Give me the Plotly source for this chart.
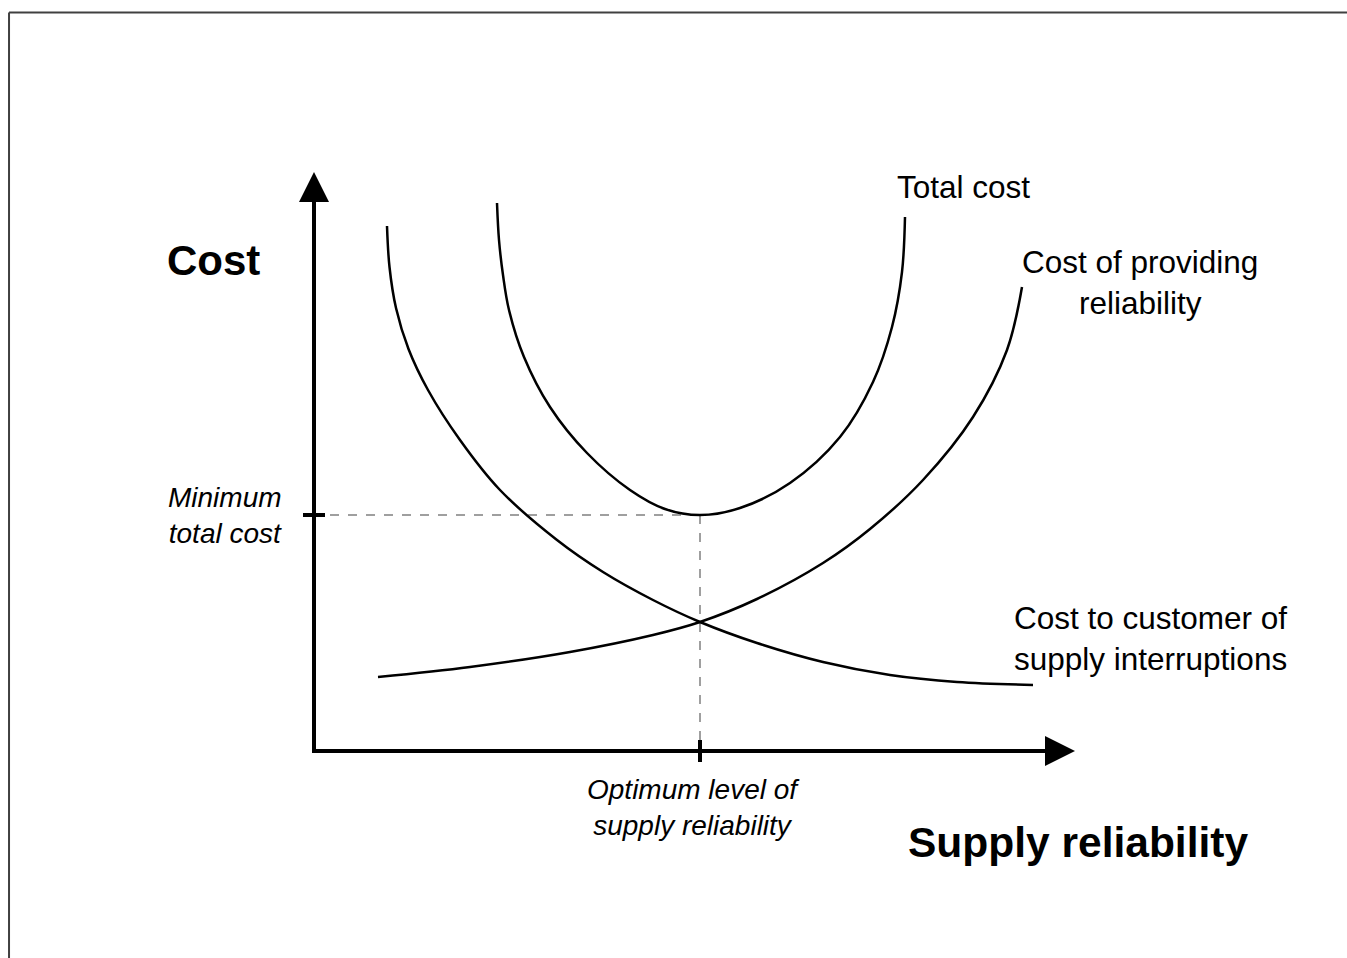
import plotly.graph_objects as go

# ---- data (x = supply reliability, y = cost) ----
interrupt_x = [0.73, 0.755, 0.82, 0.945, 1.14, 1.46, 1.86, 2.43, 2.89, 3.39, 3.86, 4.43, 5.09, 5.76, 6.43, 7.19]
interrupt_y = [5.25, 4.84, 4.43, 4.02, 3.61, 3.11, 2.61, 2.11, 1.79, 1.51, 1.29, 1.08, 0.89, 0.76, 0.69, 0.66]

provide_x = [0.64, 1.56, 2.56, 3.39, 3.86, 4.43, 5.09, 5.56, 6.09, 6.59, 6.93, 7.08]
provide_y = [0.74, 0.84, 0.99, 1.16, 1.29, 1.52, 1.88, 2.22, 2.71, 3.34, 4.01, 4.64]

total_x = [1.83, 1.85, 1.89, 1.95, 2.10, 2.36, 2.73, 3.16, 3.51, 3.86, 4.26, 4.76, 5.26, 5.59, 5.78, 5.88, 5.91]
total_y = [5.48, 5.11, 4.76, 4.41, 3.94, 3.44, 2.98, 2.61, 2.42, 2.36, 2.43, 2.68, 3.14, 3.69, 4.24, 4.79, 5.34]

x_axis_end = 7.61
y_axis_end = 5.79
dash_start = 0.16
tick_half = 0.11

curve_labels = ["Total cost", "Cost of providing<br>reliability", "Cost to customer of<br>supply interruptions"]
y_title = "Cost"
x_title = "Supply reliability"
min_label = "Minimum<br>total cost"
opt_label = "Optimum level of<br>supply reliability"

# optimum from the total cost curve
i_opt = total_y.index(min(total_y))
x_opt, y_min = total_x[i_opt], total_y[i_opt]

FONT = "Liberation Sans, Arial, sans-serif"
fig = go.Figure()

# dashed guide lines
fig.add_trace(go.Scatter(x=[dash_start, x_opt], y=[y_min, y_min], mode="lines",
                         line=dict(color="#808080", width=1.5, dash="dash"), hoverinfo="skip"))
fig.add_trace(go.Scatter(x=[x_opt, x_opt], y=[y_min, 0], mode="lines",
                         line=dict(color="#808080", width=1.5, dash="dash"), hoverinfo="skip"))

# curves
for xs, ys in [(interrupt_x, interrupt_y), (provide_x, provide_y), (total_x, total_y)]:
    fig.add_trace(go.Scatter(x=xs, y=ys, mode="lines",
                             line=dict(color="black", width=2.5, shape="spline", smoothing=1),
                             hoverinfo="skip"))

# axis lines
fig.add_trace(go.Scatter(x=[0, x_axis_end - 0.2], y=[0, 0], mode="lines",
                         line=dict(color="black", width=4), hoverinfo="skip"))
fig.add_trace(go.Scatter(x=[0, 0], y=[-0.02, y_axis_end - 0.2], mode="lines",
                         line=dict(color="black", width=4), hoverinfo="skip"))
# tick marks
fig.add_trace(go.Scatter(x=[x_opt, x_opt], y=[-tick_half, tick_half], mode="lines",
                         line=dict(color="black", width=4), hoverinfo="skip"))
fig.add_trace(go.Scatter(x=[-tick_half, tick_half], y=[y_min, y_min], mode="lines",
                         line=dict(color="black", width=4), hoverinfo="skip"))

annotations = [
    # arrow heads
    dict(x=x_axis_end, y=0, ax=x_axis_end - 0.5, ay=0, axref="x", ayref="y", xref="x", yref="y",
         text="", showarrow=True, arrowhead=2, arrowsize=1.5, arrowwidth=4, arrowcolor="black", standoff=0),
    dict(x=0, y=y_axis_end, ax=0, ay=y_axis_end - 0.5, axref="x", ayref="y", xref="x", yref="y",
         text="", showarrow=True, arrowhead=2, arrowsize=1.5, arrowwidth=4, arrowcolor="black", standoff=0),
    # titles
    dict(x=-1.01, y=4.91, text="<b>" + y_title + "</b>", showarrow=False,
         font=dict(size=42, color="black", family=FONT), xanchor="center", yanchor="middle"),
    dict(x=7.64, y=-0.91, text="<b>" + x_title + "</b>", showarrow=False,
         font=dict(size=42.5, color="black", family=FONT), xanchor="center", yanchor="middle"),
    # curve labels
    dict(x=6.49, y=5.64, text=curve_labels[0], showarrow=False,
         font=dict(size=31.5, color="black", family=FONT), xanchor="center", yanchor="middle"),
    dict(x=8.26, y=4.69, text=curve_labels[1], showarrow=False, align="center",
         font=dict(size=31.5, color="black", family=FONT), xanchor="center", yanchor="middle"),
    dict(x=6.98, y=1.125, text=curve_labels[2], showarrow=False, align="left",
         font=dict(size=31.5, color="black", family=FONT), xanchor="left", yanchor="middle"),
    # italic labels
    dict(x=-0.89, y=y_min, text="<i>" + min_label + "</i>", showarrow=False, align="center",
         font=dict(size=28, color="black", family=FONT), xanchor="center", yanchor="middle"),
    dict(x=x_opt - 0.07, y=-0.56, text="<i>" + opt_label + "</i>", showarrow=False, align="center",
         font=dict(size=28, color="black", family=FONT), xanchor="center", yanchor="middle"),
]

shapes = [
    dict(type="line", xref="paper", yref="paper", x0=0.0067, x1=1, y0=0.987, y1=0.987,
         line=dict(color="#404040", width=2)),
    dict(type="line", xref="paper", yref="paper", x0=0.0067, x1=0.0067, y0=0, y1=0.987,
         line=dict(color="#404040", width=2)),
]

fig.update_layout(
    width=1347, height=958,
    margin=dict(l=0, r=0, t=0, b=0),
    paper_bgcolor="white", plot_bgcolor="white",
    showlegend=False,
    xaxis=dict(range=[-3.14, 10.33], visible=False, fixedrange=True),
    yaxis=dict(range=[-2.07, 7.51], visible=False, fixedrange=True),
    annotations=annotations,
    shapes=shapes,
)

fig.write_html("out.html", config={"displayModeBar": False},
               post_script="document.body.style.margin='0';document.body.style.overflow='hidden';")
